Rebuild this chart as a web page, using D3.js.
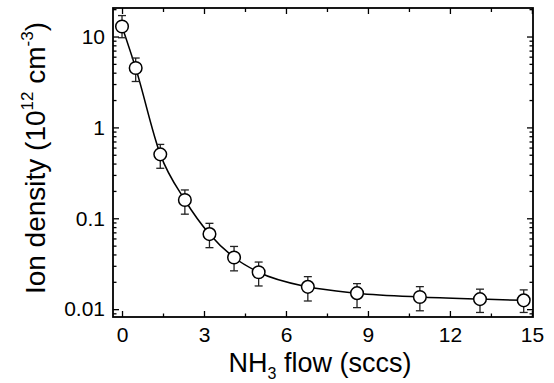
<!DOCTYPE html>
<html><head><meta charset="utf-8">
<script src="https://cdn.jsdelivr.net/npm/d3@7"></script>
<style>html,body{margin:0;padding:0;background:#fff;}svg{display:block;font-family:"Liberation Sans",Arial,sans-serif;}</style>
</head><body>
<svg id="c" width="554" height="383"></svg>
<script>
const flow = [0, 0.5, 1.4, 2.3, 3.2, 4.1, 5.0, 6.8, 8.6, 10.9, 13.1, 14.7];
const density = [12.9, 4.5, 0.505, 0.159, 0.067, 0.037, 0.0255, 0.0176, 0.015, 0.0136, 0.0129, 0.0125];
const errHigh = [17, 5.8, 0.65, 0.205, 0.088, 0.049, 0.033, 0.0228, 0.0191, 0.0177, 0.0166, 0.0163];
const errLow = [9.7, 3.2, 0.355, 0.111, 0.0475, 0.0264, 0.018, 0.0123, 0.0104, 0.0096, 0.0092, 0.0092];
const xTicks = [0, 3, 6, 9, 12, 15];
const xMinor = [1.5, 4.5, 7.5, 10.5, 13.5];
const yTicks = [0.01, 0.1, 1, 10];
const yTickLabels = ["0.01", "0.1", "1", "10"];

const svg = d3.select("#c");
const L = 113, R = 533, T = 8, B = 317;
const x = d3.scaleLinear().domain([-0.33, 15.04]).range([L, R]);
const y = d3.scaleLog().domain([0.0082, 20.6]).range([B, T]);

const yMinor = [];
[0.001, 0.01, 0.1, 1, 10].forEach(d => { for (let k = 2; k <= 9; k++) { const v = d * k; if (v > y.domain()[0] && v < y.domain()[1]) yMinor.push(v); } });

const data = flow.map((f, i) => ({x: f, y: density[i], hi: errHigh[i], lo: errLow[i]}));

const gB = svg.append("g").attr("transform", `translate(0,${B})`);
gB.call(d3.axisBottom(x).tickValues(xTicks).tickSize(-6).tickPadding(10).tickFormat(d3.format("d")));
const gBm = svg.append("g").attr("transform", `translate(0,${B})`);
gBm.call(d3.axisBottom(x).tickValues(xMinor).tickSize(-3.5).tickFormat(""));
const gT = svg.append("g").attr("transform", `translate(0,${T})`);
gT.call(d3.axisTop(x).tickValues(xTicks).tickSize(-6).tickFormat(""));
const gTm = svg.append("g").attr("transform", `translate(0,${T})`);
gTm.call(d3.axisTop(x).tickValues(xMinor).tickSize(-4).tickFormat(""));

const gL = svg.append("g").attr("transform", `translate(${L},0)`);
gL.call(d3.axisLeft(y).tickValues(yTicks).tickSize(-6).tickPadding(8).tickFormat((d, i) => yTickLabels[i]));
const gLm = svg.append("g").attr("transform", `translate(${L},0)`);
gLm.call(d3.axisLeft(y).tickValues(yMinor).tickSize(-3.5).tickFormat(""));
const gR = svg.append("g").attr("transform", `translate(${R},0)`);
gR.call(d3.axisRight(y).tickValues(yTicks).tickSize(-6).tickFormat(""));
const gRm = svg.append("g").attr("transform", `translate(${R},0)`);
gRm.call(d3.axisRight(y).tickValues(yMinor).tickSize(-3.5).tickFormat(""));

svg.selectAll(".domain").remove();
svg.selectAll(".tick line").attr("stroke", "#000").attr("stroke-width", 1.3);
svg.selectAll(".tick text").attr("font-size", 21).attr("fill", "#000").attr("font-family", "Liberation Sans, Arial, sans-serif");

svg.append("rect").attr("x", L).attr("y", T).attr("width", R - L).attr("height", B - T)
  .attr("fill", "none").attr("stroke", "#000").attr("stroke-width", 1.8);

const line = d3.line().x(d => x(d.x)).y(d => y(d.y)).curve(d3.curveMonotoneX);
svg.append("path").datum(data).attr("d", line).attr("fill", "none").attr("stroke", "#000").attr("stroke-width", 1.5);

const eb = svg.append("g").attr("stroke", "#222").attr("stroke-width", 1.3);
data.forEach(d => {
  const cx = x(d.x);
  eb.append("line").attr("x1", cx).attr("x2", cx).attr("y1", y(d.lo)).attr("y2", y(d.hi));
  eb.append("line").attr("x1", cx - 4).attr("x2", cx + 4).attr("y1", y(d.lo)).attr("y2", y(d.lo));
  eb.append("line").attr("x1", cx - 4).attr("x2", cx + 4).attr("y1", y(d.hi)).attr("y2", y(d.hi));
});

svg.append("g").selectAll("circle").data(data).join("circle")
  .attr("cx", d => x(d.x)).attr("cy", d => y(d.y)).attr("r", 6.3)
  .attr("fill", "#fff").attr("stroke", "#000").attr("stroke-width", 1.5);

const xl = svg.append("text").attr("x", 320).attr("y", 372).attr("text-anchor", "middle")
  .attr("font-size", 27).attr("fill", "#000");
xl.append("tspan").text("NH");
xl.append("tspan").attr("font-size", 16).attr("dy", 7).text("3");
xl.append("tspan").attr("dy", -7).text(" flow (sccs)");

const yl = svg.append("text").attr("transform", "translate(45,158) rotate(-90)").attr("text-anchor", "middle")
  .attr("font-size", 28).attr("fill", "#000");
yl.append("tspan").text("Ion density (10");
yl.append("tspan").attr("font-size", 17).attr("dy", -12).text("12");
yl.append("tspan").attr("dy", 12).text(" cm");
yl.append("tspan").attr("font-size", 17).attr("dy", -12).text("-3");
yl.append("tspan").attr("dy", 12).text(")");
</script>
</body></html>
